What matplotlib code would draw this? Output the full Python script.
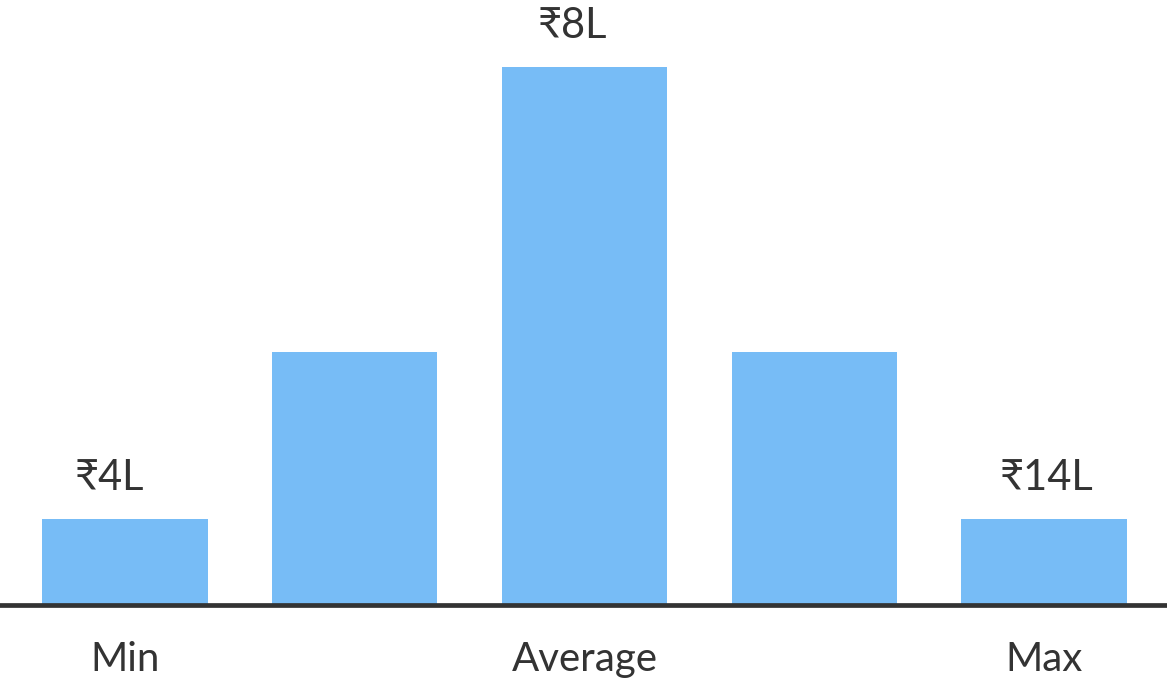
import matplotlib
matplotlib.use("Agg")
import matplotlib.pyplot as plt

# schematic salary distribution
positions = [0, 1, 2, 3, 4]
heights = [16, 47, 100, 47, 16]
top_labels = ["₹4L", "", "₹8L", "", "₹14L"]
bottom_labels = ["Min", "", "Average", "", "Max"]
label_dx = [-11, 0, -9, 0, 2]  # small nudges, in points

bar_color = "#77bcf6"
text_color = "#333333"

plt.rcParams["font.family"] = ["Lato", "Noto Sans", "DejaVu Sans"]

fig = plt.figure(figsize=(11.67, 6.83), dpi=100)
ax = fig.add_axes([0, 0.1142, 1, 0.788])

ax.bar(positions, heights, width=0.72, color=bar_color)
ax.set_xlim(-0.544, 4.535)
ax.set_ylim(0, max(heights))

for x, h, lab, dx in zip(positions, heights, top_labels, label_dx):
    if lab:
        ax.annotate(lab, (x, h), xytext=(dx, 16), textcoords="offset points",
                    ha="center", va="bottom", fontsize=30, color=text_color,
                    annotation_clip=False)

ax.axhline(0, color=text_color, linewidth=3.4, clip_on=False)

ax.set_xticks(positions)
ax.set_xticklabels(bottom_labels, fontsize=29, color=text_color)
ax.tick_params(axis="x", length=0, pad=26)
ax.set_yticks([])
for s in ax.spines.values():
    s.set_visible(False)

fig.savefig("out.png", dpi=100)
